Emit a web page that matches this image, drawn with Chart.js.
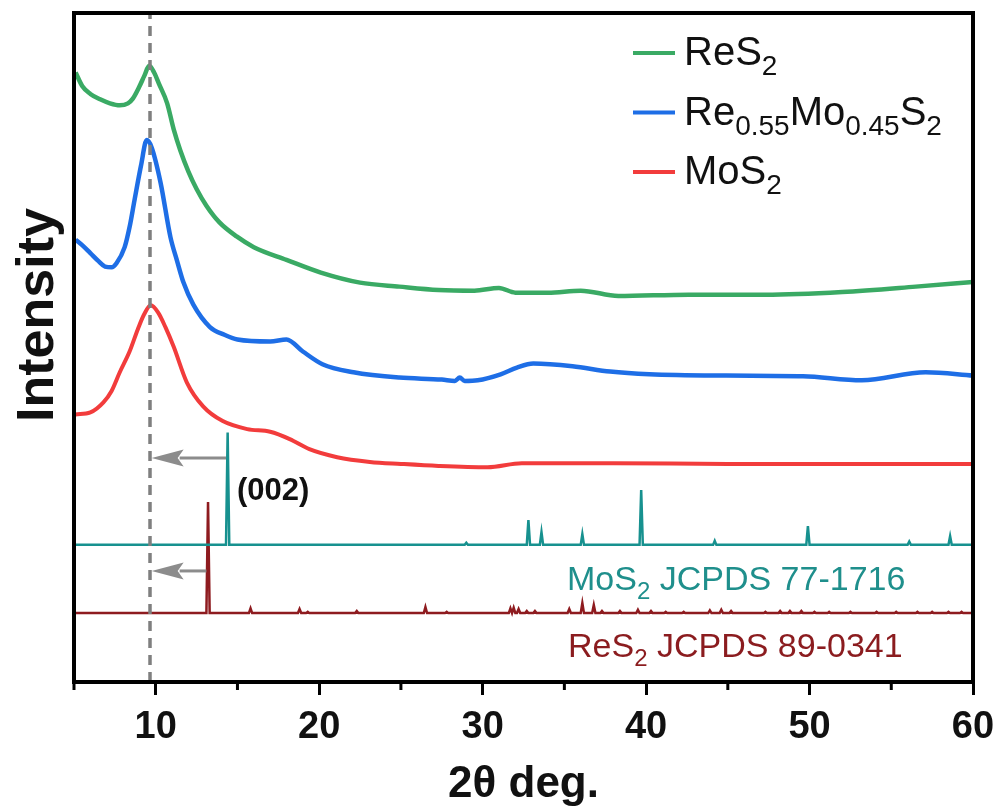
<!DOCTYPE html>
<html>
<head>
<meta charset="utf-8">
<script src="https://cdn.jsdelivr.net/npm/chart.js@4.4.0/dist/chart.umd.min.js"></script>
<style>
  body { margin: 0; background: #fff; }
  canvas { display: block; }
</style>
</head>
<body>
<canvas id="chart" width="999" height="812"></canvas>
<script>
// measured curves: [2theta, intensity a.u.]
const reS2Curve = [
  [5.1, 91.1], [5.5, 89.1], [6.0, 87.9], [6.6, 87.1], [7.2, 86.5], [7.8, 86.2],
  [8.3, 86.5], [8.6, 87.2], [9.0, 89.0], [9.3, 90.6], [9.6, 92.1], [9.9, 91.1],
  [10.2, 89.4], [10.7, 86.5], [11.1, 82.6], [11.5, 79.5], [12.0, 76.3], [12.5, 73.7],
  [13.1, 71.2], [13.9, 68.7], [14.95, 66.6], [16.0, 65.0], [18.0, 63.1], [20.1, 61.2],
  [22.5, 59.7], [24.9, 59.1], [27.3, 58.6], [29.5, 58.5], [31.0, 58.9], [32.0, 58.2],
  [34.0, 58.2], [36.0, 58.5], [38.3, 57.7], [42.6, 57.9], [47.3, 57.9], [52.0, 58.3],
  [56.5, 59.1], [60.0, 59.8]
];
const reMoS2Curve = [
  [5.1, 66.1], [5.5, 65.3], [6.0, 64.1], [6.5, 62.9], [6.9, 62.1], [7.3, 62.0],
  [7.6, 62.6], [8.1, 65.0], [8.4, 68.0], [8.7, 72.0], [9.1, 77.2], [9.45, 81.0],
  [9.75, 79.9], [10.3, 74.6], [10.9, 66.5], [11.3, 63.0], [11.7, 59.7], [12.3, 56.4],
  [13.3, 53.1], [14.2, 51.9], [15.0, 51.2], [17.0, 50.9], [18.0, 51.2], [19.0, 49.4],
  [20.2, 47.5], [22.1, 46.3], [24.9, 45.5], [27.5, 45.2], [28.3, 45.0], [28.6, 45.5],
  [28.9, 45.0], [29.7, 45.1], [31.1, 46.0], [32.1, 47.0], [33.1, 47.6], [35.5, 47.2],
  [37.8, 46.4], [40.2, 46.0], [44.9, 45.8], [49.6, 45.7], [53.2, 45.1], [57.1, 46.3],
  [60.0, 45.8]
];
const moS2Curve = [
  [5.1, 40.0], [6.0, 40.3], [6.8, 41.8], [7.3, 43.5], [7.8, 46.3], [8.4, 49.4],
  [8.9, 52.7], [9.3, 55.0], [9.7, 56.3], [10.15, 55.2], [10.6, 53.0], [11.1, 50.1],
  [11.9, 44.8], [12.9, 41.2], [14.1, 39.0], [15.6, 37.8], [17.0, 37.4], [18.2, 36.3],
  [19.4, 34.8], [21.1, 33.6], [23.1, 32.9], [25.0, 32.6], [27.3, 32.3], [30.3, 32.1],
  [32.4, 32.7], [38.0, 32.7], [45.0, 32.6], [50.0, 32.6], [55.0, 32.6], [60.0, 32.6]
];

// reference cards: peak positions and heights above their own baseline
const moS2CardBase = 20.5;
const moS2CardPeaks = [14.4, 29.0, 32.8, 33.6, 36.1, 39.7, 44.2, 49.9, 56.1, 58.6];
const moS2CardHeights = [16.8, 0.3, 3.7, 1.9, 1.6, 8.2, 0.6, 2.8, 0.5, 1.3];

const reS2CardBase = 10.3;
const reS2CardPeaks = [13.2, 15.8, 18.8, 19.3, 22.3, 26.5, 27.8, 31.7, 31.9, 32.2, 32.7, 33.2,
  35.3, 36.1, 36.8, 37.3, 38.4, 39.5, 40.3, 41.2, 42.3, 43.9, 44.6, 45.2, 47.3, 48.2,
  48.8, 49.5, 50.3, 51.2, 52.5, 54.1, 55.3, 56.6, 57.5, 58.5, 59.3];
const reS2CardHeights = [16.6, 0.7, 0.6, 0.2, 0.3, 0.9, 0.2, 0.7, 0.8, 0.6, 0.3, 0.3,
  0.6, 1.5, 1.2, 0.3, 0.3, 0.5, 0.3, 0.2, 0.2, 0.4, 0.5, 0.3, 0.2, 0.3,
  0.3, 0.3, 0.2, 0.2, 0.2, 0.2, 0.2, 0.2, 0.2, 0.2, 0.2];

// (002) guide line and shift arrows
const guide2Theta = 9.65;
const arrowFrom = [14.3, 13.1];
const arrowTo = [9.75, 9.75];
const arrowLevel = [33.5, 16.6];

const xTicks = [10, 20, 30, 40, 50, 60];

function toPoints(arr) {
  return arr.map(p => ({ x: p[0], y: p[1] }));
}

function stickPattern(base, peaks, heights) {
  const pts = [{ x: 5, y: base }];
  peaks.forEach((p, i) => {
    pts.push({ x: p - 0.1, y: base });
    pts.push({ x: p, y: base + heights[i] });
    pts.push({ x: p + 0.1, y: base });
  });
  pts.push({ x: 60, y: base });
  return pts;
}

const FONT = "'Liberation Sans', Arial, Helvetica, sans-serif";

function richText(ctx, parts, x, y, size, color, weight, align) {
  const sub = Math.round(size * 0.7);
  let w = 0;
  parts.forEach(p => {
    ctx.font = `${weight} ${p[1] ? sub : size}px ${FONT}`;
    w += ctx.measureText(p[0]).width;
  });
  let cx = align === 'center' ? x - w / 2 : x;
  ctx.fillStyle = color;
  ctx.textBaseline = 'alphabetic';
  ctx.textAlign = 'left';
  parts.forEach(p => {
    ctx.font = `${weight} ${p[1] ? sub : size}px ${FONT}`;
    ctx.fillText(p[0], cx, p[1] ? y + size * 0.25 : y);
    cx += ctx.measureText(p[0]).width;
  });
}

const decorPlugin = {
  id: 'decor',
  afterDatasetsDraw(chart) {
    const { ctx, scales: { x, y } } = chart;
    ctx.save();
    ctx.strokeStyle = '#8c8c8c';
    ctx.fillStyle = '#8c8c8c';
    ctx.lineWidth = 3;
    arrowFrom.forEach((from, i) => {
      const x0 = x.getPixelForValue(from);
      const x1 = x.getPixelForValue(arrowTo[i]);
      const yy = y.getPixelForValue(arrowLevel[i]);
      ctx.beginPath();
      ctx.moveTo(x0, yy);
      ctx.lineTo(x1 + 28, yy);
      ctx.stroke();
      ctx.beginPath();
      ctx.moveTo(x1, yy);
      ctx.lineTo(x1 + 32, yy - 8.5);
      ctx.lineTo(x1 + 26, yy);
      ctx.lineTo(x1 + 32, yy + 8.5);
      ctx.closePath();
      ctx.fill();
    });
    ctx.restore();
  },
  afterDraw(chart) {
    const { ctx, chartArea: a, scales: { x } } = chart;
    ctx.save();
    // frame
    ctx.strokeStyle = '#000';
    ctx.lineWidth = 4;
    ctx.strokeRect(a.left, a.top, a.right - a.left, a.bottom - a.top);
    // minor ticks
    ctx.lineWidth = 3;
    [5, 15, 25, 35, 45, 55].forEach(v => {
      const px = x.getPixelForValue(v);
      ctx.beginPath();
      ctx.moveTo(px, a.bottom);
      ctx.lineTo(px, a.bottom + 8);
      ctx.stroke();
    });

    // legend
    const rows = [
      { color: '#3aaa64', parts: [['ReS', 0], ['2', 1]] },
      { color: '#1e6ee6', parts: [['Re', 0], ['0.55', 1], ['Mo', 0], ['0.45', 1], ['S', 0], ['2', 1]] },
      { color: '#f23c3c', parts: [['MoS', 0], ['2', 1]] }
    ];
    rows.forEach((r, i) => {
      const ly = 53 + i * 59.5;
      ctx.strokeStyle = r.color;
      ctx.lineWidth = 4;
      ctx.beginPath();
      ctx.moveTo(633, ly);
      ctx.lineTo(675, ly);
      ctx.stroke();
      richText(ctx, r.parts, 684, ly + 12, 40, '#111', 'normal', 'left');
    });

    // annotations
    richText(ctx, [['(002)', 0]], 237, 500, 31, '#111', 'bold', 'left');
    richText(ctx, [['MoS', 0], ['2', 1], [' JCPDS 77-1716', 0]], 567, 590, 34, '#1f8f8c', 'normal', 'left');
    richText(ctx, [['ReS', 0], ['2', 1], [' JCPDS 89-0341', 0]], 568, 657, 34, '#8b1c1f', 'normal', 'left');

    // axis titles
    richText(ctx, [['2\u03b8 deg.', 0]], (a.left + a.right) / 2, 797, 44, '#111', 'bold', 'center');
    ctx.translate(53, 315);
    ctx.rotate(-Math.PI / 2);
    richText(ctx, [['Intensity', 0]], 0, 0, 52, '#111', 'bold', 'center');
    ctx.restore();
  }
};

const ctx = document.getElementById('chart').getContext('2d');
new Chart(ctx, {
  type: 'line',
  data: {
    datasets: [
      {
        label: 'guide',
        data: [{ x: guide2Theta, y: 0 }, { x: guide2Theta, y: 100 }],
        borderColor: '#7f7f7f',
        borderWidth: 3.5,
        borderDash: [10, 7]
      },
      {
        label: 'ReS2',
        data: toPoints(reS2Curve),
        borderColor: '#3aaa64',
        borderWidth: 4.5,
        cubicInterpolationMode: 'monotone'
      },
      {
        label: 'Re0.55Mo0.45S2',
        data: toPoints(reMoS2Curve),
        borderColor: '#1e6ee6',
        borderWidth: 4.5,
        cubicInterpolationMode: 'monotone'
      },
      {
        label: 'MoS2',
        data: toPoints(moS2Curve),
        borderColor: '#f23c3c',
        borderWidth: 4,
        cubicInterpolationMode: 'monotone'
      },
      {
        label: 'MoS2 JCPDS 77-1716',
        data: stickPattern(moS2CardBase, moS2CardPeaks, moS2CardHeights),
        borderColor: '#17918f',
        borderWidth: 2.5,
        tension: 0
      },
      {
        label: 'ReS2 JCPDS 89-0341',
        data: stickPattern(reS2CardBase, reS2CardPeaks, reS2CardHeights),
        borderColor: '#8e1b1f',
        borderWidth: 2.5,
        tension: 0
      }
    ]
  },
  options: {
    responsive: false,
    animation: false,
    layout: { padding: { left: 74, right: 26, top: 13, bottom: 0 } },
    elements: { point: { radius: 0 } },
    plugins: { legend: { display: false }, tooltip: { enabled: false } },
    scales: {
      x: {
        type: 'linear',
        min: 5,
        max: 60,
        afterFit: s => { s.height = 130; s.paddingLeft = 0; s.paddingRight = 0; },
        afterBuildTicks: s => {
          s.ticks = [5, 15, 25, 35, 45, 55].concat(xTicks).sort((a, b) => a - b).map(v => ({ value: v }));
        },
        border: { display: false },
        grid: {
          drawOnChartArea: false,
          tickLength: 13,
          tickWidth: 3,
          tickColor: c => (c.tick && xTicks.includes(c.tick.value)) ? '#000' : 'rgba(0,0,0,0)'
        },
        ticks: {
          autoSkip: false,
          maxRotation: 0,
          padding: 10,
          color: '#111',
          font: { family: FONT, size: 38, weight: 'bold' },
          callback: v => xTicks.includes(v) ? String(v) : ''
        }
      },
      y: { display: false, min: 0, max: 100 }
    }
  },
  plugins: [decorPlugin]
});
</script>
</body>
</html>
